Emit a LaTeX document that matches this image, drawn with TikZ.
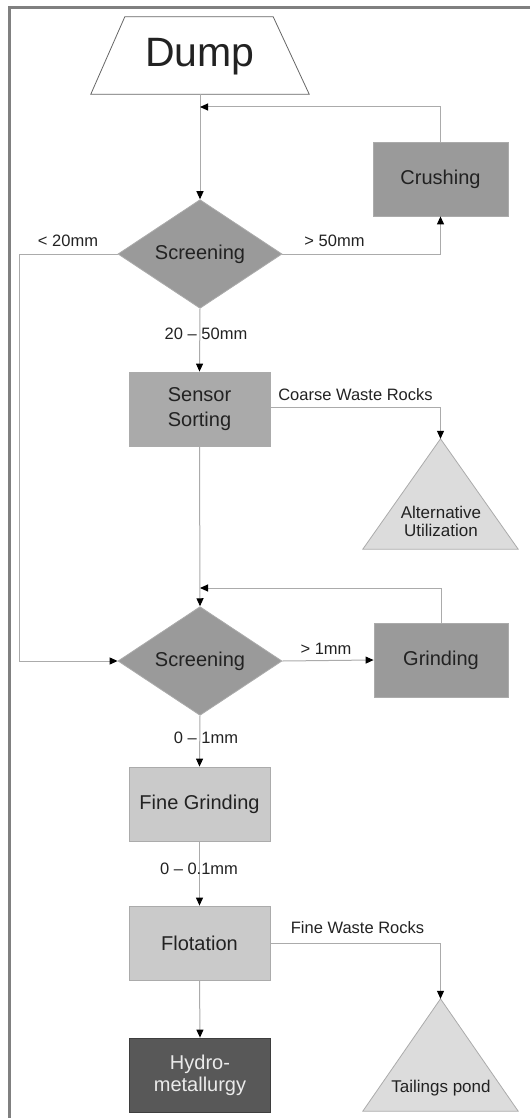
\documentclass[tikz,border=0pt]{standalone}
\usepackage{fontspec}
\setmainfont{Liberation Sans}
\usetikzlibrary{arrows.meta,shapes.geometric}
\definecolor{linegray}{HTML}{ABABAB}
\definecolor{framegray}{HTML}{808080}
\definecolor{darkfill}{HTML}{9A9A9A}
\definecolor{midfill}{HTML}{AAAAAA}
\definecolor{lightfill}{HTML}{CACACA}
\definecolor{palefill}{HTML}{DCDCDC}
\definecolor{hydrofill}{HTML}{585858}
\definecolor{txt}{HTML}{222222}
\tikzset{
  main/.style={font=\fontsize{20}{25}\selectfont, text=txt, align=center},
  lbl/.style={font=\fontsize{16.5}{19}\selectfont, text=txt, inner sep=0pt},
  box/.style={main, draw=linegray, line width=0.8pt, minimum width=141pt, minimum height=74pt, inner sep=0pt},
  dia/.style={main, diamond, draw=linegray, line width=0.8pt, fill=darkfill, minimum width=164pt, minimum height=100pt, inner sep=0pt},
  conn/.style={draw=linegray, line width=1pt},
  arr/.style={conn, -{Triangle[length=8pt,width=7pt,color=black]}},
  tri/.style={draw=linegray, line width=0.8pt, fill=palefill},
}
\begin{document}
\begin{tikzpicture}[x=1pt,y=-1pt]
\useasboundingbox (0,0) rectangle (530,1118);
% frame
\draw[framegray, line width=3pt] (9.5,1118) -- (9.5,7.5) -- (530,7.5);

% Dump
\node[minimum width=218pt, minimum height=77pt, inner sep=0pt] (dump) at (200,55.5) {};
\draw[draw=black!60, line width=0.8pt, fill=white] (dump.south west) -- (dump.south east) -- ([xshift=-36pt]dump.north east) -- ([xshift=34pt]dump.north west) -- cycle;
\node[font=\fontsize{41}{45}\selectfont, text=txt] at (200,57) {Dump};

% nodes
\node[dia] (d1) at (200,254) {Screening};
\node[box, fill=darkfill, minimum width=135pt] (crush) at (440.5,179) {Crushing};
\node[box, fill=midfill] (sensor) at (199.5,409) {Sensor\\Sorting};
\node[dia] (d2) at (200,661) {Screening};
\node[box, fill=darkfill, minimum width=134pt] (grind) at (441,660) {Grinding};
\node[box, fill=lightfill] (fine) at (199.5,804) {Fine Grinding};
\node[box, fill=lightfill] (flot) at (199.5,943) {Flotation};
\node[box, fill=hydrofill, draw=hydrofill!70!black, text=white!92!black, font=\fontsize{20}{22}\selectfont] (hydro) at (200,1075) {Hydro-\\metallurgy};

% triangles
\node[minimum width=155pt, minimum height=110pt, inner sep=0pt] (alt) at (440.5,494) {};
\draw[tri] (alt.south west) -- (alt.north) -- (alt.south east) -- cycle;
\node[main, font=\fontsize{17}{18}\selectfont] at (441,521) {Alternative\\Utilization};
\node[minimum width=155pt, minimum height=112pt, inner sep=0pt] (tail) at (440.5,1055) {};
\draw[tri] (tail.south west) -- (tail.north) -- (tail.south east) -- cycle;
\node[main, font=\fontsize{17}{18}\selectfont] at (441,1088) {Tailings pond};

% junction coordinates
\coordinate (j1) at (200,107);
\coordinate (j2) at (200,588);
\coordinate (l1) at (19,254);

% connectors
\draw[arr] (dump.south) -- (d1.north);
\draw[arr] (crush.north) |- (j1);
\draw[arr] (d1.east) -| (crush.south);
\draw[arr] (d1.west) -- (l1) |- (d2.west);
\draw[arr] (d1.south) -- (sensor.north);
\draw[arr] ([yshift=2pt]sensor.east) -| (alt.north);
\draw[arr] (sensor.south) -- (d2.north);
\draw[arr] (grind.north) |- (j2);
\draw[arr] (d2.east) -- (grind.west);
\draw[arr] (d2.south) -- (fine.north);
\draw[arr] (fine.south) -- (flot.north);
\draw[arr] (flot.east) -| (tail.north);
\draw[arr] (flot.south) -- (hydro.north);

% labels
\node[lbl] at (68,241) {< 20mm};
\node[lbl] at (334.5,241) {> 50mm};
\node[lbl] at (206,334) {20 – 50mm};
\node[lbl] at (355.5,395) {Coarse Waste Rocks};
\node[lbl] at (326,649) {> 1mm};
\node[lbl] at (206,738) {0 – 1mm};
\node[lbl] at (199,869) {0 – 0.1mm};
\node[lbl] at (357.5,928) {Fine Waste Rocks};
\end{tikzpicture}
\end{document}
